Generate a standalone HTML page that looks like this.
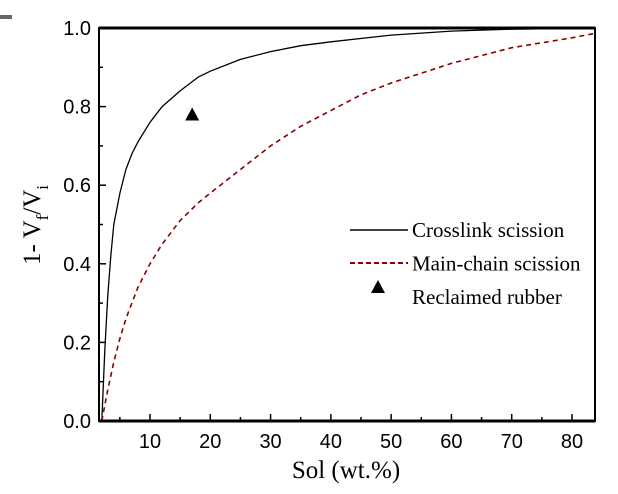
<!DOCTYPE html>
<html><head><meta charset="utf-8"><style>
html,body{margin:0;padding:0;background:#fff;}
svg{display:block;}
.tick{font-family:"Liberation Sans",sans-serif;font-size:20px;fill:#000;}
.ser{font-family:"Liberation Serif",serif;fill:#000;}
</style></head><body>
<svg id="chart" width="618" height="494">
<defs><clipPath id="cp"><rect x="99" y="26" width="496" height="396"/></clipPath></defs>
<rect x="0" y="15" width="12" height="4" fill="#666"/>
<g id="plot"></g>
</svg>
<script>
const crossX=[2,2.5,3,3.5,4,5,6,7,8,10,12,15,18,20,25,30,35,40,50,60,70,85];
const crossY=[0,0.18,0.32,0.42,0.5,0.58,0.64,0.68,0.71,0.76,0.8,0.84,0.875,0.89,0.92,0.94,0.955,0.965,0.982,0.992,0.997,1.0];
const mainX=[2,3,4,5,6,7,8,10,12,15,18,20,25,30,35,40,45,50,60,70,80,85];
const mainY=[0,0.08,0.15,0.21,0.26,0.3,0.34,0.4,0.45,0.51,0.555,0.58,0.64,0.7,0.75,0.79,0.83,0.86,0.91,0.95,0.975,0.99];
const pointX=[17];
const pointY=[0.78];
const xTicks=[10,20,30,40,50,60,70,80];
const yTicks=[0,0.2,0.4,0.6,0.8,1.0];
const yTickLabels=["0.0","0.2","0.4","0.6","0.8","1.0"];
const L=99,R=595,T=28,B=421;
const xs=v=>150+(v-10)*(572-150)/70;
const ys=v=>B-(B-T)*v;
const NS="http://www.w3.org/2000/svg";
const g=document.getElementById('plot');
function mk(tag,attrs,parent){const e=document.createElementNS(NS,tag);for(const k in attrs)e.setAttribute(k,attrs[k]);(parent||g).appendChild(e);return e;}
function path(X,Y){return X.map((x,i)=>(i?'L':'M')+xs(x).toFixed(1)+','+ys(Y[i]).toFixed(1)).join('');}
const cg=mk('g',{'clip-path':'url(#cp)'});
let c=mk('path',{d:path(crossX,crossY),fill:'none',stroke:'#000','stroke-width':1.3,'stroke-linejoin':'round'},cg);


let m=mk('path',{d:path(mainX,mainY),fill:'none',stroke:'#8b0000','stroke-width':1.6,'stroke-dasharray':'5,4'},cg);


// frame
let f=mk('rect',{x:L,y:T,width:R-L,height:B-T,fill:'none',stroke:'#000','stroke-width':2});


mk('line',{x1:L,y1:T,x2:R,y2:T,stroke:'#000','stroke-width':3});
mk('line',{x1:L,y1:B,x2:R,y2:B,stroke:'#000','stroke-width':3});
// x ticks
for(let i=0;i<xTicks.length;i++){const x=xs(xTicks[i]);
 mk('line',{x1:x,y1:B,x2:x,y2:B-7,stroke:'#000','stroke-width':1.5});
 const xm=xs(xTicks[i]-5); if(xm>L) mk('line',{x1:xm,y1:B,x2:xm,y2:B-4,stroke:'#000','stroke-width':1.5});
 const t=mk('text',{x:x,y:B+27,'text-anchor':'middle',class:'tick'});t.textContent=xTicks[i];
 
 }
// y ticks
for(let i=0;i<yTicks.length;i++){const y=ys(yTicks[i]);
 mk('line',{x1:L,y1:y,x2:L+7,y2:y,stroke:'#000','stroke-width':1.5});
 if(i<yTicks.length-1){const ym=ys(yTicks[i]+0.1);mk('line',{x1:L,y1:ym,x2:L+4,y2:ym,stroke:'#000','stroke-width':1.5});}
 const t=mk('text',{x:L-8,y:y+7,'text-anchor':'end',class:'tick'});t.textContent=yTickLabels[i];
 
 }
for(let i=0;i<pointX.length;i++){const x=xs(pointX[i]),y=ys(pointY[i]);
 const p=mk('polygon',{points:`${x-7},${y+6} ${x+7},${y+6} ${x},${y-7}`,fill:'#000'});
 
 }
// legend
const lg=mk('g',{});


mk('line',{x1:350,y1:230,x2:408,y2:230,stroke:'#000','stroke-width':1.5},lg);
mk('line',{x1:350,y1:263,x2:408,y2:263,stroke:'#8b0000','stroke-width':2,'stroke-dasharray':'5,3'},lg);
mk('polygon',{points:'371,293 385,293 378,280',fill:'#000'},lg);
const labs=["Crosslink scission","Main-chain scission","Reclaimed rubber"];
for(let i=0;i<3;i++){const t=mk('text',{x:412,y:237+i*33.5,class:'ser','font-size':'21'},lg);t.textContent=labs[i];
 
 }
// axis titles
const xt=mk('text',{x:346,y:478,'text-anchor':'middle',class:'ser','font-size':'25'});
xt.textContent='Sol (wt.%)';


const yt=mk('text',{transform:'translate(40,225) rotate(-90)','text-anchor':'middle',class:'ser','font-size':'25'});
yt.innerHTML='1- V<tspan dy="8" font-size="17">f</tspan><tspan dy="-8">/V</tspan><tspan dy="8" font-size="17">i</tspan>';


</script>
</body></html>
